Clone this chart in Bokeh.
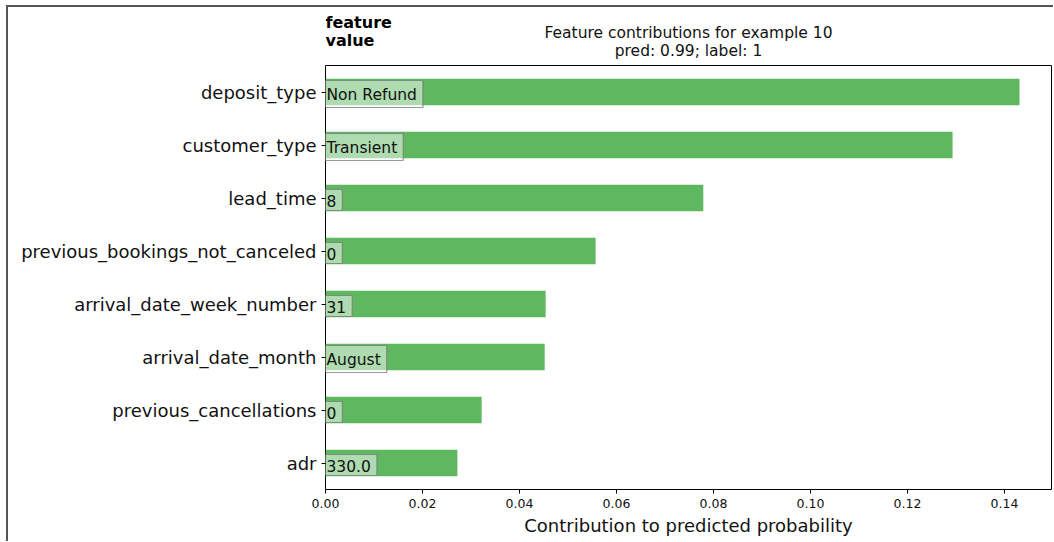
from bokeh.plotting import figure
from bokeh.layouts import column
from bokeh.models import Range1d, FactorRange, FixedTicker, ColumnDataSource, CustomJSTickFormatter
from bokeh.core.properties import value
from bokeh.embed import file_html
from bokeh.resources import INLINE

features = ["deposit_type", "customer_type", "lead_time", "previous_bookings_not_canceled",
            "arrival_date_week_number", "arrival_date_month", "previous_cancellations", "adr"]
contributions = [0.1431, 0.1293, 0.0779, 0.0557, 0.0454, 0.0452, 0.0322, 0.0272]
feature_values = ["Non Refund", "Transient", "8", "0", "31", "August", "0", "330.0"]
x_ticks = [0.00, 0.02, 0.04, 0.06, 0.08, 0.10, 0.12, 0.14]
title_lines = ["Feature contributions for example 10", "pred: 0.99; label: 1"]
header_lines = ["feature", "value"]

FONT = "DejaVu Sans"
X_END = 0.1497

W = 1045          # content width of each figure
TOP_H = 57        # header strip height
MAIN_H = 477
MB_L, MB_R, MB_B = 317, 2, 52

x_range = Range1d(0, X_END)

# ---------- header strip (titles) ----------
top = figure(width=W, height=TOP_H, output_backend="svg", toolbar_location=None,
             x_range=x_range, y_range=Range1d(0, TOP_H),
             x_axis_location=None, y_axis_location=None,
             min_border_left=MB_L, min_border_right=MB_R, min_border_top=0, min_border_bottom=0)
top.outline_line_color = None
top.xgrid.visible = False
top.ygrid.visible = False

title_src = ColumnDataSource(dict(x=[X_END / 2, X_END / 2], y=[32, 14], t=title_lines))
top.text(x="x", y="y", text="t", source=title_src, text_align="center", text_baseline="middle",
         text_font=value(FONT), text_font_size="15.5px", text_color="#111111")
head_src = ColumnDataSource(dict(x=[0, 0], y=[42, 24], t=header_lines))
top.text(x="x", y="y", text="t", source=head_src, text_align="left", text_baseline="middle",
         text_font=value(FONT), text_font_size="16px", text_font_style="bold", text_color="black")

# ---------- main chart ----------
src = ColumnDataSource(dict(
    feat=features, contrib=contributions, val=feature_values,
    zero=[0.0] * len(features),
))

p = figure(width=W, height=MAIN_H, output_backend="svg", toolbar_location=None,
           x_range=x_range, y_range=FactorRange(factors=features[::-1], range_padding=0),
           min_border_left=MB_L, min_border_right=MB_R, min_border_top=1, min_border_bottom=MB_B)

p.hbar(y="feat", right="contrib", left=0, height=0.5, source=src,
       fill_color="#5fb760", line_color=None)

p.text(x="zero", y="feat", text="val", source=src, x_offset=-6, y_offset=2,
       text_font=value(FONT), text_font_size="15.5px", text_color="#111111",
       text_baseline="middle", text_align="left",
       background_fill_color="white", background_fill_alpha=0.5,
       border_line_color="#777777", border_line_alpha=0.75, border_line_width=1.2,
       padding=dict(left=7, right=6, top=5, bottom=4))

p.xgrid.visible = False
p.ygrid.visible = False
p.outline_line_color = "black"
p.outline_line_width = 1

xa = p.xaxis[0]
xa.ticker = FixedTicker(ticks=x_ticks)
xa.formatter = CustomJSTickFormatter(code="return tick.toFixed(2);")
xa.minor_tick_line_color = None
xa.major_tick_in = 0
xa.major_tick_out = 4
xa.major_tick_line_color = "black"
xa.axis_line_color = None
xa.major_label_text_font = FONT
xa.major_label_text_font_size = "12.5px"
xa.major_label_text_color = "#111111"
xa.major_label_standoff = 5
xa.axis_label = "Contribution to predicted probability"
xa.axis_label_text_font = FONT
xa.axis_label_text_font_size = "18px"
xa.axis_label_text_font_style = "normal"
xa.axis_label_text_color = "#111111"
xa.axis_label_standoff = 4

ya = p.yaxis[0]
ya.major_tick_in = 0
ya.major_tick_out = 4
ya.major_tick_line_color = "black"
ya.axis_line_color = None
ya.major_label_text_font = FONT
ya.major_label_text_font_size = "18px"
ya.major_label_text_color = "#111111"
ya.major_label_standoff = 5

layout = column(top, p, spacing=0,
                styles={"border-left": "2px solid #555555", "border-top": "2px solid #555555",
                        "margin-left": "6px", "margin-top": "5px"})

open("out.html", "w").write(file_html(layout, INLINE))
